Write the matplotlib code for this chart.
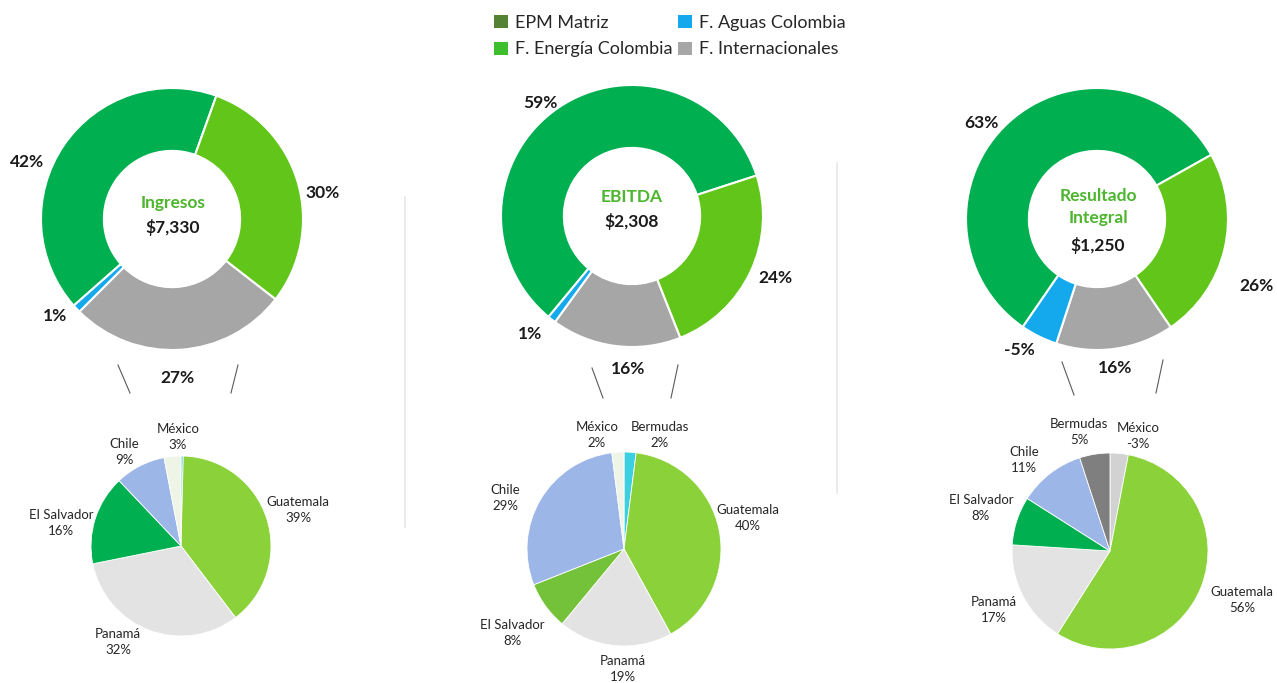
import matplotlib
matplotlib.use("Agg")
import matplotlib.pyplot as plt
from matplotlib.patches import Patch
import numpy as np

plt.rcParams['font.family'] = ['Lato', 'DejaVu Sans']

# --- data ---
segmentos = ['EPM Matriz', 'F. Energía Colombia', 'F. Internacionales', 'F. Aguas Colombia']
ingresos_pct = [42, 30, 27, 1]
ebitda_pct = [59, 24, 16, 1]
resultado_pct = [63, 26, 16, -5]
titulos = ['Ingresos', 'EBITDA', 'Resultado\nIntegral']
totales = ['$7,330', '$2,308', '$1,250']

# internacionales, clockwise from 12 o'clock
paises_ingresos = ['Bermudas', 'Guatemala', 'Panamá', 'El Salvador', 'Chile', 'México']
ingresos_int = [0.4, 39, 32, 16, 9, 3]
paises_ebitda = ['Bermudas', 'Guatemala', 'Panamá', 'El Salvador', 'Chile', 'México']
ebitda_int = [2, 40, 19, 8, 29, 2]
paises_resultado = ['México', 'Guatemala', 'Panamá', 'El Salvador', 'Chile', 'Bermudas']
resultado_int = [-3, 56, 17, 8, 11, 5]

# --- styles ---
seg_colors = ['#00B050', '#62C51A', '#A6A6A6', '#14A9EC']
legend_colors = ['#548235', '#3DBE2C', '#A6A6A6', '#14A9EC']
col_int = {'Guatemala': '#8BD23A', 'Panamá': '#E3E3E3', 'El Salvador': '#00B050',
           'Chile': '#9DB6E8', 'México': '#EEF4E6', 'Bermudas': '#3CCFE0'}
col_int2 = dict(col_int, **{'El Salvador': '#74C23A'})
col_int3 = dict(col_int, **{'México': '#D2D2D2', 'Bermudas': '#7F7F7F'})

W, H = 1277, 683
fig = plt.figure(figsize=(W / 100, H / 100), dpi=100)
ax = fig.add_axes([0, 0, 1, 1])

def py(y):
    return H - y

# donuts: label positions in the order EPM, Energía, Internacionales, Aguas
donuts = [
    (ingresos_pct, (172, 219), -138.6,
     [(27, 162), (323, 193), (177, 378), (55, 316)], [(173, 203), (173, 228)]),
    (ebitda_pct, (632, 216), -129.6,
     [(540, 103), (775, 278), (628, 369), (530, 334)], [(632, 197), (632, 222)]),
    (resultado_pct, (1097, 219), -124.5,
     [(981, 123), (1256, 286), (1115, 368), (1019, 350)], [(1098, 207), (1098, 245)]),
]
R = 131
for i, (vals, (cx, cy), start, lab_pos, txt_pos) in enumerate(donuts):
    ax.pie(np.abs(vals), colors=seg_colors, radius=R, center=(cx, py(cy)),
           startangle=start, counterclock=False,
           wedgeprops=dict(width=R * 0.48, edgecolor='white', linewidth=1.5))
    for v, (lx, ly) in zip(vals, lab_pos):
        ax.text(lx, py(ly), f'{v}%', ha='center', va='center',
                fontsize=12.5, fontweight='bold', color='#1a1a1a')
    ax.text(txt_pos[0][0], py(txt_pos[0][1]), titulos[i], ha='center', va='center',
            fontsize=12.5, fontweight='bold', color='#4DB52E', linespacing=1.45)
    ax.text(txt_pos[1][0], py(txt_pos[1][1]), totales[i], ha='center', va='center',
            fontsize=12.5, fontweight='bold', color='#1a1a1a')

# breakdown pies
pies = [
    (paises_ingresos, ingresos_int, col_int, (181, 546), 90,
     {'México': (178, 437), 'Chile': (124, 452), 'El Salvador': (61, 523),
      'Guatemala': (298, 510), 'Panamá': (118, 642)}),
    (paises_ebitda, ebitda_int, col_int2, (624, 549), 97,
     {'México': (597, 435), 'Bermudas': (660, 435), 'Chile': (505, 498),
      'Guatemala': (748, 518), 'El Salvador': (512, 633), 'Panamá': (623, 669)}),
    (paises_resultado, resultado_int, col_int3, (1110, 551), 98,
     {'Bermudas': (1079, 432), 'México': (1138, 436), 'Chile': (1024, 460),
      'El Salvador': (981, 508), 'Panamá': (994, 610), 'Guatemala': (1242, 600)}),
]
for names, vals, cmap, (cx, cy), r, lab_pos in pies:
    ax.pie(np.abs(vals), colors=[cmap[n] for n in names], radius=r, center=(cx, py(cy)),
           startangle=90, counterclock=False,
           wedgeprops=dict(edgecolor='white', linewidth=0.6))
    for n, v in zip(names, vals):
        if n in lab_pos:
            lx, ly = lab_pos[n]
            ax.text(lx, py(ly), f'{n}\n{v}%', ha='center', va='center',
                    fontsize=9.5, color='#262626', linespacing=1.35)

# connector strokes under the donuts
connectors = [
    [(118, 365), (130, 393)], [(238, 365), (231, 393)],
    [(592, 368), (603, 398)], [(678, 365), (671, 398)],
    [(1062, 362), (1074, 395)], [(1163, 360), (1156, 393)],
]
for (x0, y0), (x1, y1) in connectors:
    ax.plot([x0, x1], [py(y0), py(y1)], color='#5a5a5a', lw=0.8)

# faint separators
ax.plot([405, 405], [py(197), py(527)], color='#e8e8e8', lw=1.2)
ax.plot([837, 837], [py(163), py(493)], color='#e8e8e8', lw=1.2)

ax.set_xlim(0, W)
ax.set_ylim(0, H)
ax.set_aspect('auto')
ax.axis('off')

handles = [Patch(facecolor=c, edgecolor='none') for c in legend_colors]
order = [0, 1, 3, 2]
fig.legend([handles[k] for k in order], [segmentos[k] for k in order],
           ncol=2, loc='center', bbox_to_anchor=(670 / W, 1 - 36 / H),
           frameon=False, fontsize=13, handlelength=0.75, handleheight=0.75,
           handletextpad=0.4, columnspacing=0.3, labelspacing=0.6,
           labelcolor='#262626')

fig.savefig('out.png', dpi=100)
